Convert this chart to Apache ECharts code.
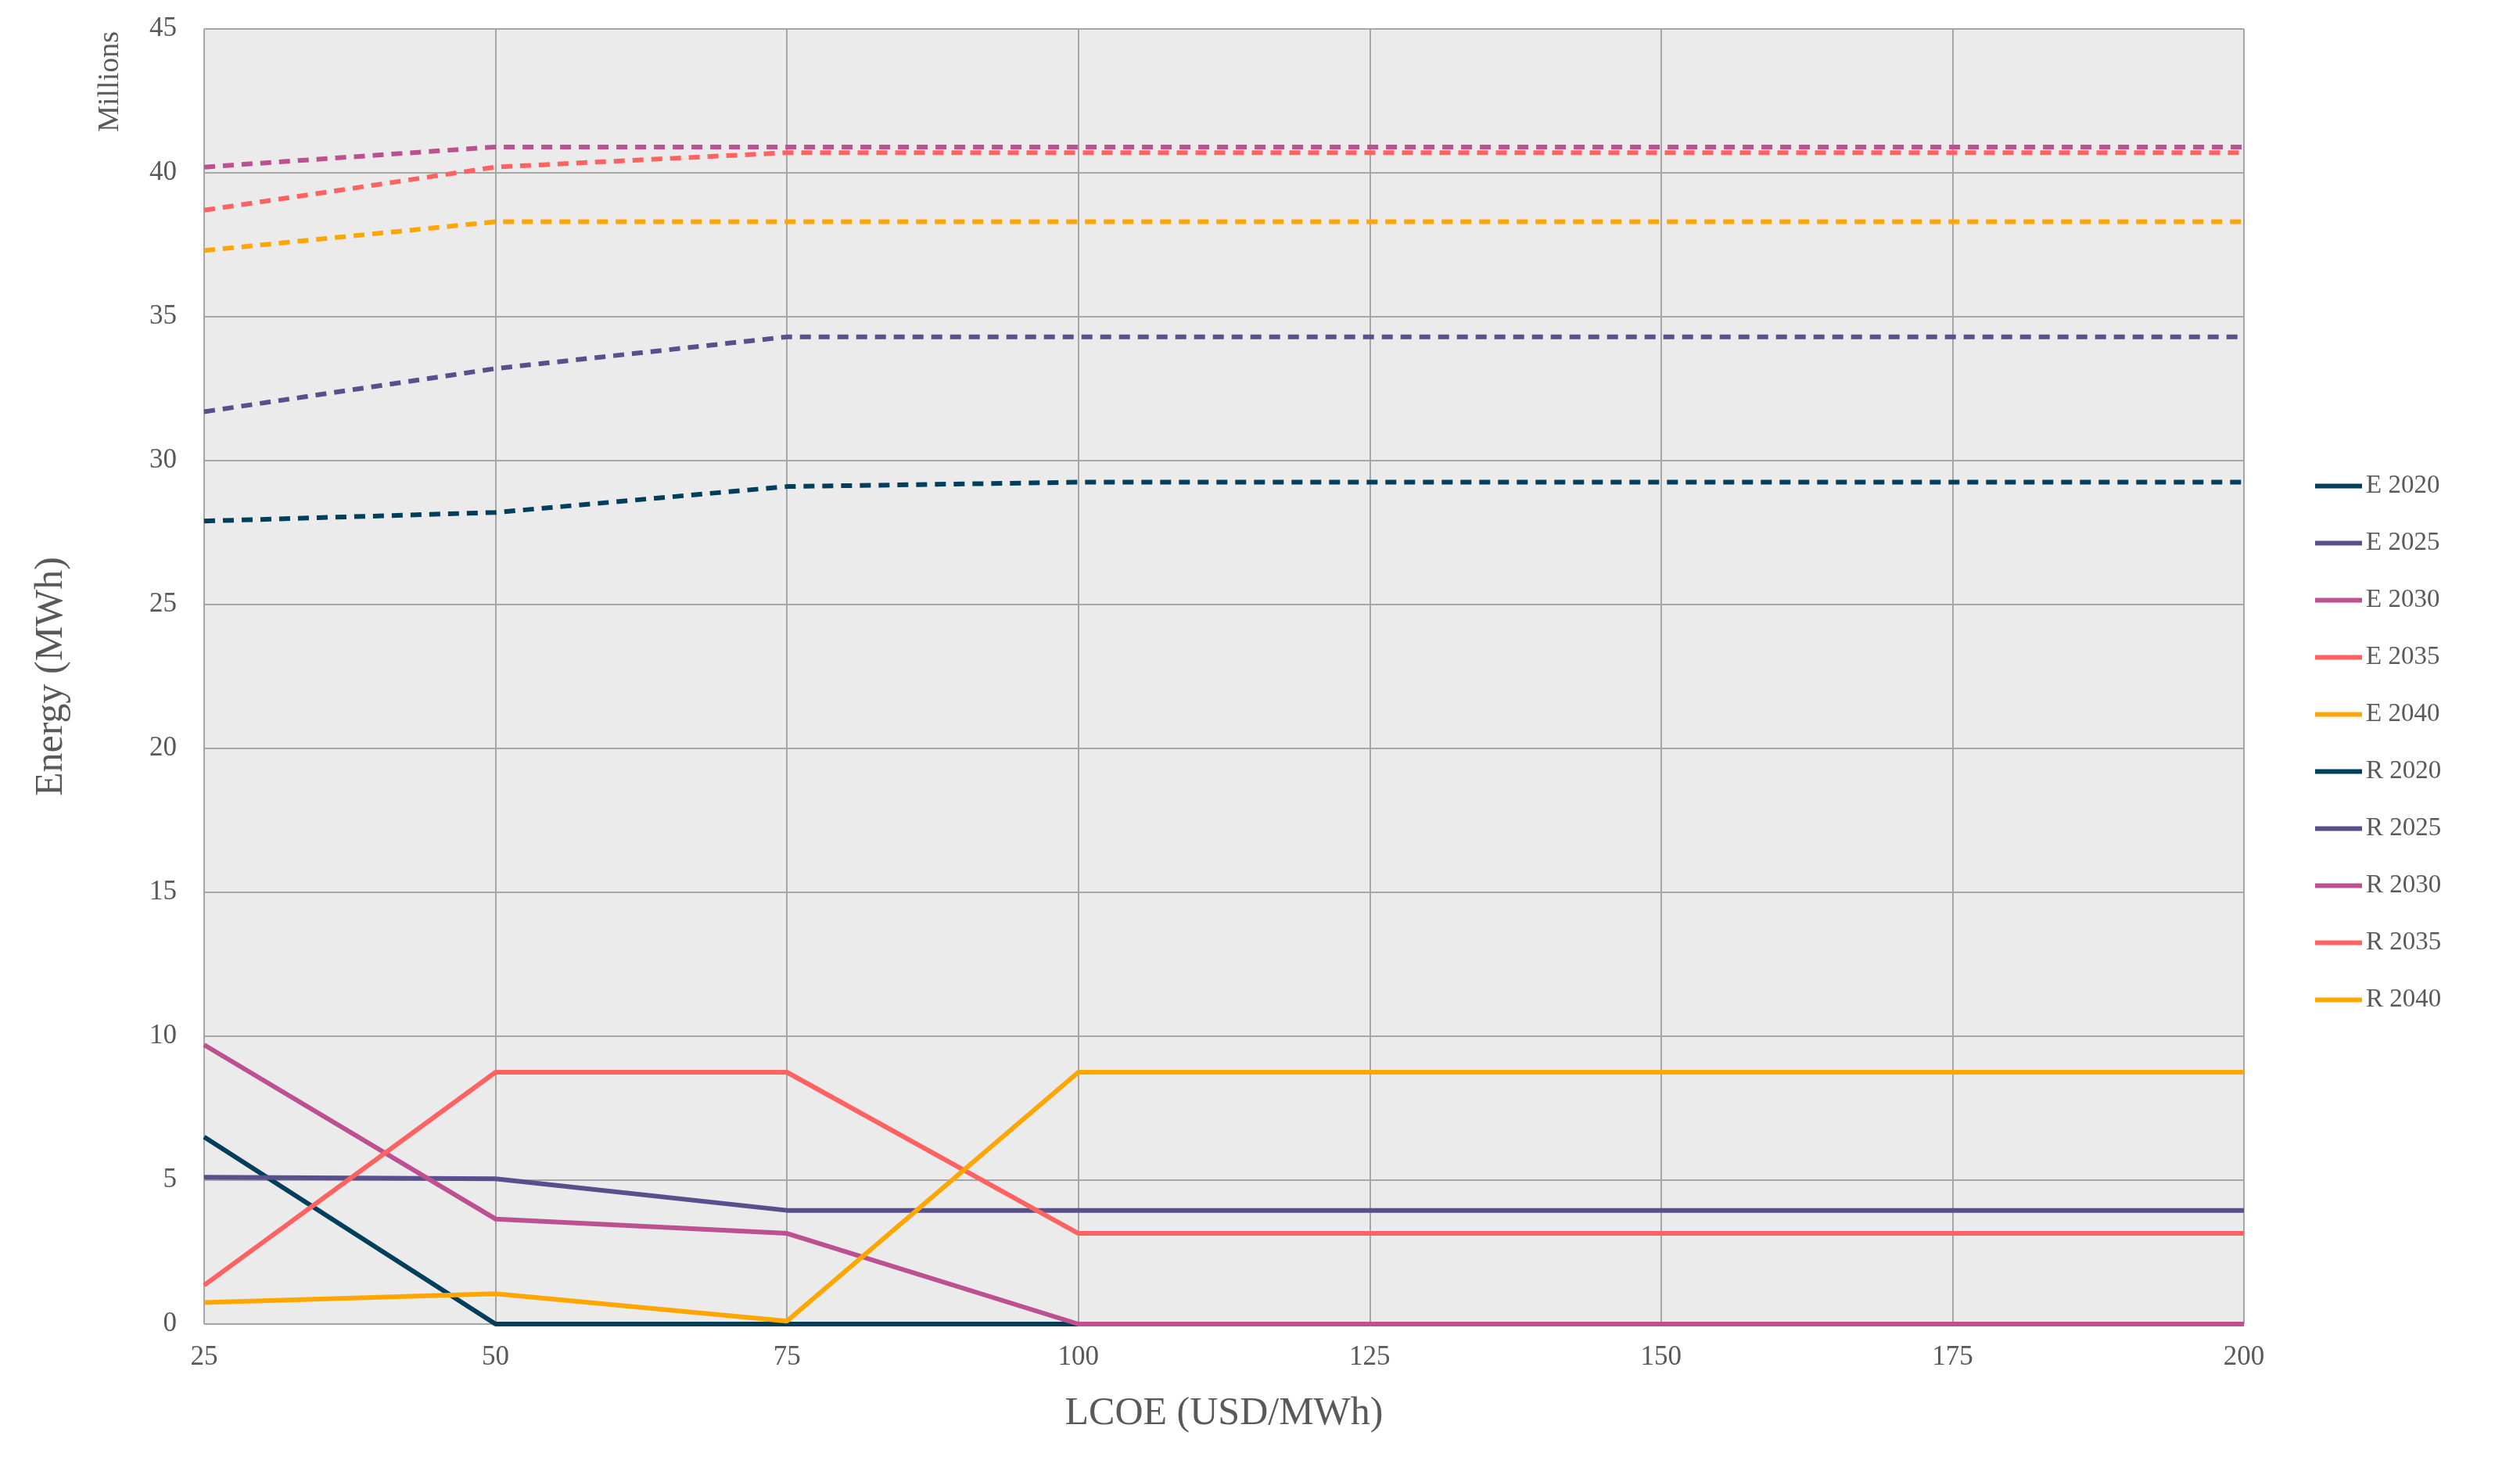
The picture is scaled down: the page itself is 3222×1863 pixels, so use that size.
<!DOCTYPE html><html><head><meta charset="utf-8"><script src="https://cdn.jsdelivr.net/npm/echarts@6/dist/echarts.min.js"></script>
<style>html,body{margin:0;background:#fff}#c{width:3222px;height:1863px}</style></head><body><div id="c"></div><script>
const xCats=[25,50,75,100,125,150,175,200];
const E2020=[27.9,28.2,29.1,29.25,29.25,29.25,29.25,29.25];
const E2025=[31.7,33.2,34.3,34.3,34.3,34.3,34.3,34.3];
const E2030=[40.2,40.9,40.9,40.9,40.9,40.9,40.9,40.9];
const E2035=[38.7,40.2,40.7,40.7,40.7,40.7,40.7,40.7];
const E2040=[37.3,38.3,38.3,38.3,38.3,38.3,38.3,38.3];
const R2020=[6.5,0,0,0,0,0,0,0];
const R2025=[5.1,5.05,3.95,3.95,3.95,3.95,3.95,3.95];
const R2030=[9.7,3.65,3.15,0,0,0,0,0];
const R2035=[1.35,8.75,8.75,3.15,3.15,3.15,3.15,3.15];
const R2040=[0.75,1.05,0.1,8.75,8.75,8.75,8.75,8.75];
const colors=['#003f5c','#58508d','#bc5090','#ff6361','#ffa600'];
const F='Liberation Serif';
const mk=(n,d,c,dash)=>({name:n,type:'line',data:xCats.map((x,i)=>[x,d[i]]),symbol:'none',lineStyle:{color:c,width:6,type:dash?[14,10]:'solid'},itemStyle:{color:c}});
const series=[mk('E 2020',E2020,colors[0],1),mk('E 2025',E2025,colors[1],1),mk('E 2030',E2030,colors[2],1),mk('E 2035',E2035,colors[3],1),mk('E 2040',E2040,colors[4],1),
mk('R 2020',R2020,colors[0]),mk('R 2025',R2025,colors[1]),mk('R 2030',R2030,colors[2]),mk('R 2035',R2035,colors[3]),mk('R 2040',R2040,colors[4])];
const ch=echarts.init(document.getElementById('c'));
ch.setOption({animation:false,textStyle:{fontFamily:F},
grid:{left:261,right:353,top:37,bottom:170,show:true,backgroundColor:'#ebebeb',borderWidth:0},
legend:{orient:'vertical',left:2955,top:600,itemWidth:60,itemHeight:6,itemGap:40,icon:'rect',textStyle:{fontFamily:F,fontSize:33,color:'#595959'},data:series.map(s=>s.name)},
xAxis:{type:'value',min:25,max:200,interval:25,name:'LCOE (USD/MWh)',nameLocation:'middle',nameGap:90,nameTextStyle:{fontSize:50,color:'#595959',fontFamily:F},
axisLine:{show:false},axisTick:{show:false},axisLabel:{fontSize:35,color:'#595959',margin:25,fontFamily:F},splitLine:{lineStyle:{color:'#a6a6a6',width:2}}},
yAxis:{type:'value',min:0,max:45,interval:5,name:'Energy (MWh)',nameLocation:'middle',nameGap:170,nameTextStyle:{fontSize:50,color:'#595959',fontFamily:F},
axisLine:{show:false},axisTick:{show:false},axisLabel:{fontSize:35,color:'#595959',margin:35,fontFamily:F},splitLine:{lineStyle:{color:'#a6a6a6',width:2}}},
graphic:[{type:'text',left:122,top:40,rotation:Math.PI/2,style:{text:'Millions',font:'38px "Liberation Serif"',fill:'#595959'},x:0,y:0}],
series});
</script></body></html>
